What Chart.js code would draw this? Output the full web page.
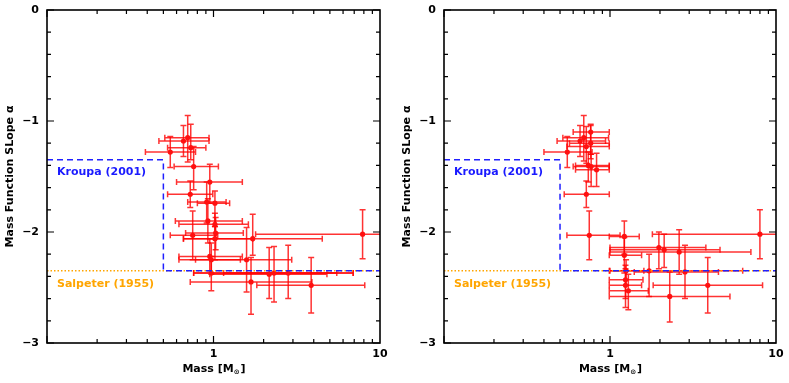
<!DOCTYPE html>
<html>
<head>
<meta charset="utf-8">
<script src="https://cdn.jsdelivr.net/npm/chart.js@4"></script>
<style>
  html, body { margin: 0; padding: 0; background: #fff; }
  #wrap { position: relative; width: 789px; height: 383px; }
  canvas { position: absolute; top: 0; }
</style>
</head>
<body>
<div id="wrap">
  <canvas id="leftChart" width="393" height="383" style="left:0"></canvas>
  <canvas id="rightChart" width="392" height="383" style="left:397px"></canvas>
</div>
<script>
// --- left panel data ---
const leftMass    = [0.55, 0.66, 0.70, 0.73, 0.76, 0.95, 0.725, 0.91, 1.02, 0.925, 1.02, 0.75, 1.03, 1.02, 1.72, 7.86, 0.95, 0.97, 1.58, 2.16, 1.68, 3.86, 2.31, 2.81, 0.97];
const leftMassLo  = [0.39, 0.47, 0.51, 0.53, 0.58, 0.60, 0.53, 0.70, 0.80, 0.59, 0.62, 0.55, 0.68, 0.66, 0.66, 1.79, 0.62, 0.62, 0.78, 0.95, 0.725, 1.82, 0.76, 1.15, 0.76];
const leftMassHi  = [0.78, 0.94, 0.94, 0.90, 1.07, 1.49, 0.99, 1.19, 1.25, 1.49, 1.62, 1.06, 1.51, 1.72, 4.5, 12, 1.49, 1.45, 2.95, 4.8, 3.9, 8.1, 6.9, 5.5, 6.9];
const leftAlpha   = [-1.28, -1.18, -1.15, -1.24, -1.41, -1.55, -1.66, -1.73, -1.74, -1.90, -1.93, -2.03, -2.01, -2.06, -2.06, -2.02, -2.22, -2.25, -2.25, -2.38, -2.45, -2.48, -2.37, -2.37, -2.37];
const leftAlphaUp = [-1.14, -1.04, -0.95, -1.03, -1.23, -1.39, -1.54, -1.55, -1.63, -1.70, -1.83, -1.81, -1.87, -1.95, -1.84, -1.80, -2.06, -2.10, -1.96, -2.14, -2.23, -2.23, -2.13, -2.12, -2.22];
const leftAlphaLo = [-1.42, -1.32, -1.37, -1.35, -1.62, -1.74, -1.78, -1.92, -1.95, -2.10, -2.06, -2.25, -2.16, -2.25, -2.21, -2.24, -2.35, -2.38, -2.54, -2.60, -2.74, -2.73, -2.63, -2.60, -2.53];

// --- right panel data ---
const rightMass    = [0.553, 0.66, 0.695, 0.72, 0.765, 0.765, 0.74, 0.77, 0.83, 0.72, 0.75, 1.22, 1.22, 1.97, 2.12, 2.61, 8.0, 1.72, 2.83, 1.25, 1.24, 1.24, 1.29, 3.88, 2.29];
const rightMassLo  = [0.40, 0.48, 0.52, 0.55, 0.60, 0.57, 0.62, 0.60, 0.62, 0.53, 0.55, 0.99, 0.99, 1.0, 1.0, 1.0, 1.8, 1.0, 1.4, 0.99, 0.99, 0.99, 0.99, 1.82, 0.99];
const rightMassHi  = [0.78, 0.94, 0.98, 0.99, 0.99, 0.99, 0.99, 0.99, 0.99, 0.99, 1.15, 1.50, 1.55, 3.78, 4.6, 7.06, 12, 6.3, 4.5, 1.60, 1.58, 1.55, 1.70, 8.3, 5.28];
const rightAlpha   = [-1.28, -1.18, -1.15, -1.23, -1.10, -1.20, -1.40, -1.41, -1.44, -1.66, -2.03, -2.04, -2.21, -2.14, -2.16, -2.18, -2.02, -2.35, -2.36, -2.35, -2.43, -2.48, -2.53, -2.48, -2.58];
const rightAlphaUp = [-1.14, -1.04, -0.95, -1.05, -1.03, -1.04, -1.28, -1.30, -1.29, -1.54, -1.81, -1.90, -2.05, -2.00, -2.02, -1.98, -1.80, -2.20, -2.12, -2.25, -2.30, -2.33, -2.38, -2.23, -2.36];
const rightAlphaLo = [-1.42, -1.32, -1.36, -1.38, -1.30, -1.34, -1.55, -1.59, -1.59, -1.78, -2.25, -2.20, -2.37, -2.33, -2.32, -2.38, -2.24, -2.58, -2.60, -2.48, -2.60, -2.68, -2.70, -2.73, -2.81];

// reference IMF slopes
const kroupaMass  = [0.1, 0.5, 0.5, 10];
const kroupaAlpha = [-1.35, -1.35, -2.35, -2.35];
const salpeterMass  = [0.1, 10];
const salpeterAlpha = [-2.35, -2.35];

const xTickLabels = [1, 10];
const yTickLabels = [-3, -2, -1, 0];

const FONT = "'DejaVu Sans', sans-serif";
const RED = '#ff1010';

function pts(xs, ys) { return xs.map((x, i) => ({ x: x, y: ys[i] })); }

// error bars, drawn under the points
const errorBars = {
  id: 'errorBars',
  beforeDatasetsDraw(chart) {
    const { ctx, chartArea: a, scales: { x, y } } = chart;
    ctx.save();
    ctx.beginPath();
    ctx.rect(a.left, a.top, a.right - a.left, a.bottom - a.top);
    ctx.clip();
    ctx.strokeStyle = 'rgba(255,0,0,0.8)';
    ctx.lineWidth = 1.5;
    chart.data.datasets.forEach(ds => {
      if (!ds.err) return;
      const e = ds.err, cap = 3;
      e.mass.forEach((m, i) => {
        const px = x.getPixelForValue(m), py = y.getPixelForValue(e.alpha[i]);
        const x0 = x.getPixelForValue(e.massLo[i]), x1 = x.getPixelForValue(e.massHi[i]);
        const y0 = y.getPixelForValue(e.alphaUp[i]), y1 = y.getPixelForValue(e.alphaLo[i]);
        ctx.beginPath();
        ctx.moveTo(x0, py); ctx.lineTo(x1, py);
        ctx.moveTo(x0, py - cap); ctx.lineTo(x0, py + cap);
        ctx.moveTo(x1, py - cap); ctx.lineTo(x1, py + cap);
        ctx.moveTo(px, y0); ctx.lineTo(px, y1);
        ctx.moveTo(px - cap, y0); ctx.lineTo(px + cap, y0);
        ctx.moveTo(px - cap, y1); ctx.lineTo(px + cap, y1);
        ctx.stroke();
      });
    });
    ctx.restore();
  }
};

// box frame with inward ticks on all sides, labels and x title
const frame = {
  id: 'frame',
  afterDraw(chart) {
    const { ctx, chartArea: a, scales: { x, y } } = chart;
    ctx.save();
    ctx.strokeStyle = '#000';
    ctx.lineWidth = 1.6;
    ctx.strokeRect(a.left, a.top, a.right - a.left, a.bottom - a.top);
    ctx.lineWidth = 1.2;
    ctx.beginPath();
    for (let k = 0; k <= 15; k++) {
      const v = -3 + k * 0.2;
      const py = y.getPixelForValue(v);
      const len = (k % 5 === 0) ? 7 : 4;
      ctx.moveTo(a.left, py); ctx.lineTo(a.left + len, py);
      ctx.moveTo(a.right, py); ctx.lineTo(a.right - len, py);
    }
    for (let d = 0.1; d < 10; d *= 10) {
      for (let j = 1; j <= 9; j++) {
        const px = x.getPixelForValue(d * j);
        const len = (j === 1) ? 7 : 4;
        ctx.moveTo(px, a.bottom); ctx.lineTo(px, a.bottom - len);
        ctx.moveTo(px, a.top); ctx.lineTo(px, a.top + len);
      }
    }
    ctx.stroke();

    // annotation labels
    ctx.font = 'bold 11px ' + FONT;
    ctx.textBaseline = 'middle';
    ctx.textAlign = 'left';
    ctx.fillStyle = '#1a1aff';
    ctx.fillText('Kroupa (2001)', a.left + 10, y.getPixelForValue(-1.46));
    ctx.fillStyle = '#ffa500';
    ctx.fillText('Salpeter (1955)', a.left + 10, y.getPixelForValue(-2.47));

    // x axis title with subscript sun
    ctx.fillStyle = '#000';
    const main = 'Mass [M', sub = '\u2299', end = ']';
    ctx.font = 'bold 11px ' + FONT;
    const w1 = ctx.measureText(main).width, w3 = ctx.measureText(end).width;
    ctx.font = 'bold 7px ' + FONT;
    const w2 = ctx.measureText(sub).width;
    let tx = (a.left + a.right) / 2 - (w1 + w2 + w3) / 2;
    const ty = 369;
    ctx.font = 'bold 11px ' + FONT;
    ctx.fillText(main, tx, ty);
    ctx.font = 'bold 7px ' + FONT;
    ctx.fillText(sub, tx + w1, ty + 3);
    ctx.font = 'bold 11px ' + FONT;
    ctx.fillText(end, tx + w1 + w2 + 1, ty);
    ctx.restore();
  }
};

function makeChart(id, mass, lo, hi, alpha, up, down) {
  const ctx = document.getElementById(id).getContext('2d');
  return new Chart(ctx, {
    type: 'scatter',
    data: {
      datasets: [
        {
          data: pts(kroupaMass, kroupaAlpha),
          showLine: true, borderColor: '#2020ff', borderWidth: 1.5,
          borderDash: [6, 4], pointRadius: 0, tension: 0, order: 0
        },
        {
          data: pts(salpeterMass, salpeterAlpha),
          showLine: true, borderColor: '#ffa500', borderWidth: 1.5,
          borderDash: [1.5, 2], pointRadius: 0, order: 1
        },
        {
          data: pts(mass, alpha),
          err: { mass: mass, massLo: lo, massHi: hi, alpha: alpha, alphaUp: up, alphaLo: down },
          backgroundColor: RED, borderColor: RED, pointRadius: 2.6,
          borderWidth: 0, order: 2
        }
      ]
    },
    options: {
      responsive: false,
      animation: false,
      layout: { padding: { top: 10, right: 13, left: 0, bottom: 0 } },
      plugins: { legend: { display: false }, tooltip: { enabled: false } },
      scales: {
        x: {
          type: 'logarithmic', min: 0.1, max: 10,
          grid: { display: false, drawTicks: false },
          border: { display: false },
          afterBuildTicks: s => { s.ticks = xTickLabels.map(v => ({ value: v })); },
          ticks: {
            padding: 5, color: '#000', autoSkip: false, maxRotation: 0,
            font: { family: FONT, size: 11, weight: 'bold' },
            callback: v => String(v)
          },
          afterFit: s => { s.height = 40; s.paddingLeft = 0; s.paddingRight = 0; }
        },
        y: {
          min: -3, max: 0,
          grid: { display: false, drawTicks: false },
          border: { display: false },
          afterBuildTicks: s => { s.ticks = yTickLabels.map(v => ({ value: v })); },
          ticks: {
            padding: 8, color: '#000',
            font: { family: FONT, size: 11, weight: 'bold' },
            callback: v => v === 0 ? '0' : '\u2212' + Math.abs(v)
          },
          title: {
            display: true, text: 'Mass Function SLope \u03b1', color: '#000',
            font: { family: FONT, size: 11, weight: 'bold' }, padding: { top: 4, bottom: 0 }
          },
          afterFit: s => { s.width = 47; s.paddingTop = 0; s.paddingBottom = 0; }
        }
      }
    },
    plugins: [errorBars, frame]
  });
}

try {
  makeChart('leftChart', leftMass, leftMassLo, leftMassHi, leftAlpha, leftAlphaUp, leftAlphaLo);
  makeChart('rightChart', rightMass, rightMassLo, rightMassHi, rightAlpha, rightAlphaUp, rightAlphaLo);
} catch (error) {
  console.error('Chart.js Error: ', error);
}
</script>
</body>
</html>
